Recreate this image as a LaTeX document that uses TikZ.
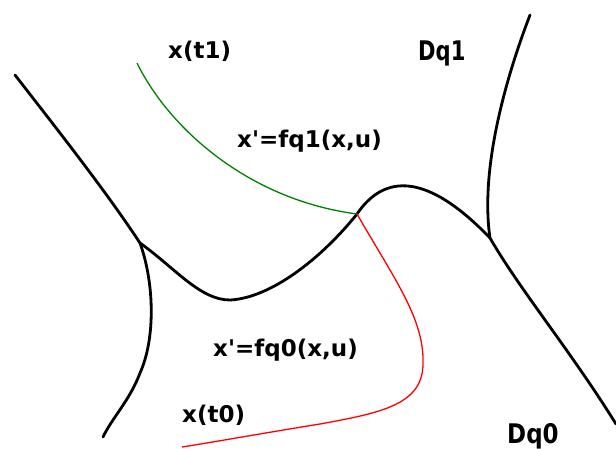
\documentclass[tikz,border=0pt]{standalone}
\usepackage{fontspec}
\newfontfamily\lblfont{DejaVu Sans}[Ligatures=TeXOff]
\begin{document}
\begin{tikzpicture}[x=1pt,y=-1pt,
  bound/.style={line width=2.8pt,line join=round,line cap=round},
  greentraj/.style={line width=1.3pt,color=green!50!black},
  redtraj/.style={line width=1.3pt,color=red},
  lbl/.style={inner sep=0pt,anchor=base west,font=\lblfont\bfseries\fontsize{23}{26}\selectfont},
  dlbl/.style={inner sep=0pt,anchor=base west,font=\lblfont\bfseries\fontsize{27}{30}\selectfont}]
\useasboundingbox (0,0) rectangle (616,448);
\coordinate (start) at (15,75);
\coordinate (J1) at (140,243);
\coordinate (J2) at (357,214);
\coordinate (J3) at (490,238);
\coordinate (top) at (530,15);
\coordinate (rend) at (616,424);
\coordinate (lend) at (103,437);
\coordinate (g0) at (137,63);
\coordinate (r1) at (182,447);
% boundaries
\draw[bound] (start) .. controls (60,133) and (105,190) .. (J1);
\draw[bound] (J1) .. controls (175,268) and (200,300) .. (230,300)
  .. controls (270,298) and (320,260) .. (J2)
  .. controls (380,180) and (420,165) .. (J3);
\draw[bound] (J1) .. controls (155,285) and (155,340) .. (140,373)
  .. controls (130,400) and (112,418) .. (lend);
\draw[bound] (top) .. controls (505,80) and (480,170) .. (J3)
  .. controls (520,290) and (570,350) .. (rend);
% trajectories
\draw[greentraj] (g0) .. controls (170,130) and (250,200) .. (J2);
\draw[redtraj] (J2) .. controls (395,280) and (425,320) .. (423,365)
  .. controls (422,405) and (380,413) .. (320,424)
  .. controls (270,432) and (220,441) .. (r1);
% labels
\node[lbl] (xt1) at (168,58) {x(t1)};
\node[lbl] (f1) at (237,147) {x'=fq1(x,u)};
\node[lbl] (f0) at (213,356) {x'=fq0(x,u)};
\node[lbl] (xt0) at (182,422) {x(t0)};
\node[dlbl] (dq1) at (418,60) {\scalebox{0.78}[1]{Dq1}};
\node[dlbl] (dq0) at (507,443) {\scalebox{0.85}[1]{Dq0}};
\end{tikzpicture}
\end{document}
